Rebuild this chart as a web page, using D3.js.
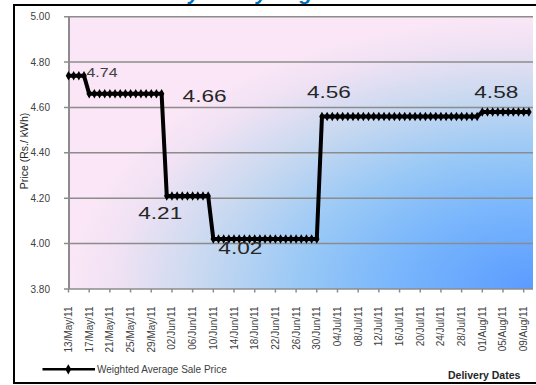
<!DOCTYPE html>
<html>
<head>
<meta charset="utf-8">
<script src="https://cdn.jsdelivr.net/npm/d3@7"></script>
<style>
  body { margin: 0; background: #fff; }
  svg { display: block; }
  text { font-family: "Liberation Sans", Arial, sans-serif; }
</style>
</head>
<body>
<svg id="chart" width="536" height="385"></svg>
<script>
// daily weighted average sale price, one value per delivery day from 13/May/11
let startDate = "13/May/11"
let prices = [
  4.74, 4.74, 4.74, 4.74,
  4.66, 4.66, 4.66, 4.66, 4.66, 4.66, 4.66, 4.66, 4.66, 4.66, 4.66, 4.66, 4.66, 4.66, 4.66,
  4.21, 4.21, 4.21, 4.21, 4.21, 4.21, 4.21, 4.21, 4.21,
  4.02, 4.02, 4.02, 4.02, 4.02, 4.02, 4.02, 4.02, 4.02, 4.02, 4.02, 4.02, 4.02, 4.02, 4.02, 4.02, 4.02, 4.02, 4.02, 4.02, 4.02,
  4.56, 4.56, 4.56, 4.56, 4.56, 4.56, 4.56, 4.56, 4.56, 4.56, 4.56, 4.56, 4.56, 4.56, 4.56, 4.56,
  4.56, 4.56, 4.56, 4.56, 4.56, 4.56, 4.56, 4.56, 4.56, 4.56, 4.56, 4.56, 4.56, 4.56, 4.56,
  4.58, 4.58, 4.58, 4.58, 4.58, 4.58, 4.58, 4.58, 4.58, 4.58
]
let tickLabels = [
  "13/May/11", "17/May/11", "21/May/11", "25/May/11", "29/May/11",
  "02/Jun/11", "06/Jun/11", "10/Jun/11", "14/Jun/11", "18/Jun/11",
  "22/Jun/11", "26/Jun/11", "30/Jun/11", "04/Jul/11", "08/Jul/11",
  "12/Jul/11", "16/Jul/11", "20/Jul/11", "24/Jul/11", "28/Jul/11",
  "01/Aug/11", "05/Aug/11", "09/Aug/11"
]
let yTicks = [3.80, 4.00, 4.20, 4.40, 4.60, 4.80, 5.00]
let labelDays = [3, 18, 19, 28, 49, 80]   // points that carry a data label

let seriesName = "Weighted Average Sale Price"
let xTitle = "Delivery Dates"
let yTitle = "Price (Rs./ kWh)"
let chartTitle = "Weekly / Daily Avg"

// label placement relative to its point
let labelLayout = [
  {dx: 2.5, dy: 1, size: 13, len: 31, small: true},
  {dx: 21, dy: 7.8, size: 17, len: 44},
  {dx: -28.5, dy: 23.5, size: 17, len: 44},
  {dx: 5, dy: 15, size: 17, len: 44},
  {dx: -15, dy: -19, size: 17, len: 44},
  {dx: -8, dy: -14.3, size: 17, len: 44}
]

let parse = d3.timeParse("%d/%b/%y")
let day0 = parse(startDate)
let data = prices.map((p, i) => ({date: d3.timeDay.offset(day0, i), price: p}))

let plot = {left: 69, right: 533, top: 16.7, bottom: 289}
let svg = d3.select("#chart")

let scales = {
  x: d3.scaleTime()
    .domain([day0, new Date(day0.getTime() + 89.8 * 864e5)])
    .range([68.5, plot.right]),
  y: d3.scaleLinear()
    .domain([3.8, 5.0])
    .range([plot.bottom, plot.top])
}

// background gradient
let defs = svg.append("defs")
let grad = defs.append("radialGradient")
  .attr("id", "bg")
  .attr("cx", 1).attr("cy", 1).attr("r", 1).attr("fx", 1).attr("fy", 1)
let stops = [[0, "#5b9bff"], [0.3, "#79b6fc"], [0.5, "#98c8f6"], [0.72, "#c9d9f0"], [0.9, "#f0e2f4"], [1, "#fae6f6"]]
grad.selectAll("stop").data(stops).enter().append("stop")
  .attr("offset", d => d[0]).attr("stop-color", d => d[1])

// title, cut off by the top of the frame
svg.append("text")
  .attr("x", 128).attr("y", 0)
  .attr("font-family", "Carlito, 'Liberation Sans', sans-serif")
  .attr("font-size", 21).attr("font-weight", "bold").attr("font-style", "italic")
  .attr("fill", "#0070c0")
  .text(chartTitle)
svg.append("rect").attr("x", 0).attr("y", 6).attr("width", 536).attr("height", 10).attr("fill", "#fff")

// frame
svg.append("path")
  .attr("d", "M536,5H14V383H536")
  .attr("fill", "none").attr("stroke", "#000").attr("stroke-width", 2)

svg.append("rect")
  .attr("x", plot.left).attr("y", plot.top)
  .attr("width", plot.right - plot.left).attr("height", plot.bottom - plot.top)
  .attr("fill", "url(#bg)")

// gridlines + y ticks
svg.append("g")
  .selectAll("line")
  .data(yTicks).enter()
  .append("line")
  .attr("x1", 64).attr("x2", plot.right)
  .attr("y1", d => scales.y(d)).attr("y2", d => scales.y(d))
  .attr("stroke", "#8c8c8c").attr("stroke-width", 1.5)

svg.append("line")
  .attr("x1", plot.left).attr("x2", plot.left)
  .attr("y1", plot.top).attr("y2", plot.bottom)
  .attr("stroke", "#8c8c8c").attr("stroke-width", 2)

svg.append("g")
  .selectAll("text")
  .data(yTicks).enter()
  .append("text")
  .attr("x", 50).attr("y", d => scales.y(d)).attr("dy", "0.35em")
  .attr("text-anchor", "end").attr("font-size", 10).attr("fill", "#404040")
  .text(d => d.toFixed(2))

// x ticks and labels
let xg = svg.append("g")
xg.selectAll("line")
  .data(tickLabels).enter()
  .append("line")
  .attr("x1", d => scales.x(parse(d))).attr("x2", d => scales.x(parse(d)))
  .attr("y1", plot.bottom).attr("y2", plot.bottom + 3.5)
  .attr("stroke", "#8c8c8c").attr("stroke-width", 1.5)
xg.selectAll("text")
  .data(tickLabels).enter()
  .append("text")
  .attr("transform", d => `translate(${scales.x(parse(d))}, 306.5) rotate(-90)`)
  .attr("dy", "0.35em")
  .attr("text-anchor", "end").attr("font-size", 10).attr("fill", "#404040")
  .text(d => d)

// axis titles
svg.append("text")
  .attr("transform", "translate(24.5, 151) rotate(-90)")
  .attr("dy", "0.35em").attr("text-anchor", "middle")
  .attr("font-size", 10.5).attr("fill", "#262626")
  .text(yTitle)
svg.append("text")
  .attr("x", 448).attr("y", 379.3)
  .attr("font-size", 10.5).attr("font-weight", "bold").attr("fill", "#262626")
  .text(xTitle)

// series
let line = d3.line()
  .x(d => scales.x(d.date))
  .y(d => scales.y(d.price))
svg.append("path")
  .datum(data)
  .attr("d", line)
  .attr("fill", "none").attr("stroke", "#000")
  .attr("stroke-width", 4).attr("stroke-linejoin", "round")

let marker = d3.symbol(d3.symbolDiamond, 26)
svg.append("g")
  .selectAll("path")
  .data(data).enter()
  .append("path")
  .attr("transform", d => `translate(${scales.x(d.date)}, ${scales.y(d.price)})`)
  .attr("d", marker)
  .attr("fill", "#000")

// data labels
svg.append("g")
  .selectAll("text")
  .data(labelDays).enter()
  .append("text")
  .each(function(d, i) {
    let l = labelLayout[i]
    d3.select(this)
      .attr("x", scales.x(data[d].date) + l.dx)
      .attr("y", scales.y(data[d].price) + l.dy)
      .attr("font-size", l.size)
      .attr("font-family", l.small ? "'Liberation Sans', Arial, sans-serif" : "'Open Sans', sans-serif")
      .attr("fill", l.small ? "#404040" : "#262626")
      .attr("textLength", l.len).attr("lengthAdjust", "spacingAndGlyphs")
  })
  .text(d => data[d].price.toFixed(2))

// legend
svg.append("line")
  .attr("x1", 42.5).attr("x2", 95).attr("y1", 369.3).attr("y2", 369.3)
  .attr("stroke", "#000").attr("stroke-width", 2.5)
svg.append("path")
  .attr("transform", "translate(68.3, 369.3)")
  .attr("d", d3.symbol(d3.symbolDiamond, 30))
  .attr("fill", "#000")
svg.append("text")
  .attr("x", 97).attr("y", 369.3).attr("dy", "0.35em")
  .attr("font-size", 10).attr("fill", "#404040")
  .text(seriesName)
</script>
</body>
</html>
